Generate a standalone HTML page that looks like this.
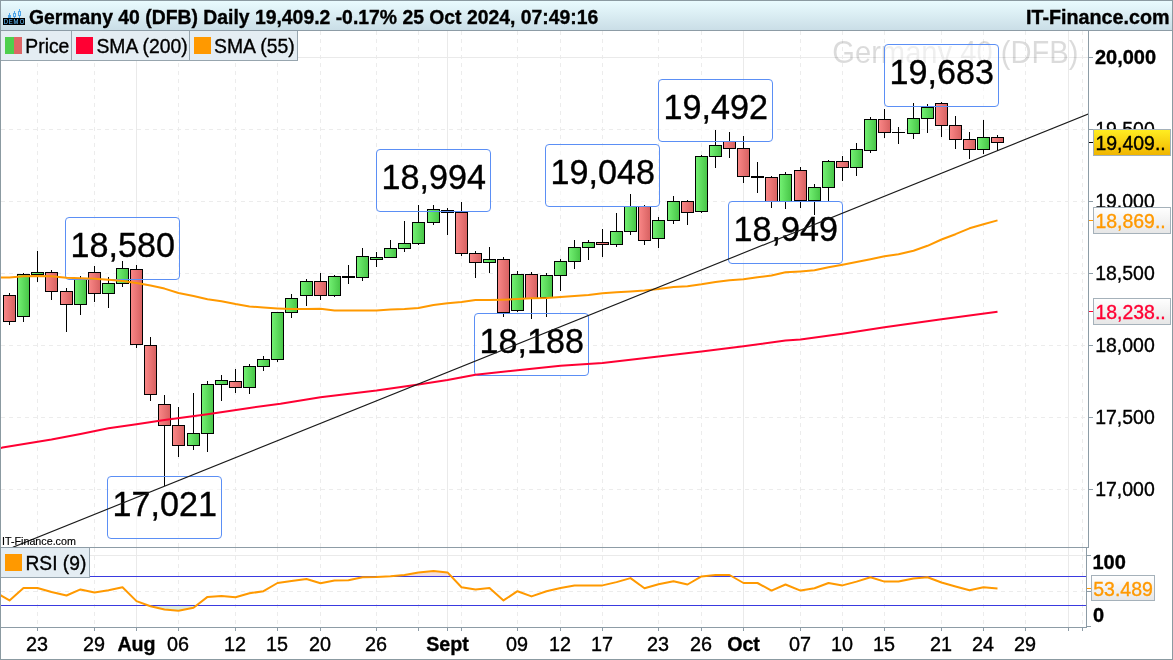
<!DOCTYPE html>
<html lang="en"><head><meta charset="utf-8"><title>Germany 40 (DFB) Daily</title>
<style>
html,body{margin:0;padding:0;background:#fff;}
body{width:1173px;height:660px;overflow:hidden;}
svg{display:block;font-family:"Liberation Sans", sans-serif;}
.ce{shape-rendering:crispEdges;}
.b{font-weight:bold;}
</style></head><body>
<svg width="1173" height="660" viewBox="0 0 1173 660">
<defs>
<linearGradient id="gG" x1="0" y1="0" x2="1" y2="0"><stop offset="0" stop-color="#72f072"/><stop offset="1" stop-color="#48c648"/></linearGradient>
<linearGradient id="gR" x1="0" y1="0" x2="1" y2="0"><stop offset="0" stop-color="#f98686"/><stop offset="1" stop-color="#d86262"/></linearGradient>
<linearGradient id="gT" x1="0" y1="0" x2="0" y2="1"><stop offset="0" stop-color="#eafcff"/><stop offset="1" stop-color="#c9dde6"/></linearGradient>
<linearGradient id="gY" x1="0" y1="0" x2="0" y2="1"><stop offset="0" stop-color="#ffee22"/><stop offset="1" stop-color="#f0b400"/></linearGradient>
<linearGradient id="gW" x1="0" y1="0" x2="0" y2="1"><stop offset="0" stop-color="#ffffff"/><stop offset="1" stop-color="#e6e6e6"/></linearGradient>
<clipPath id="cpMain"><rect x="1" y="31" width="1087" height="516"/></clipPath>
<clipPath id="cpRsi"><rect x="1" y="548" width="1085" height="79"/></clipPath>
</defs>
<rect width="1173" height="660" fill="#fff"/>
<g class="ce" stroke="#ececec" stroke-width="1" fill="none">
<line x1="37.5" y1="31" x2="37.5" y2="547" stroke-dasharray="4 4"/>
<line x1="37.5" y1="548" x2="37.5" y2="627" stroke-dasharray="4 4"/>
<line x1="94.5" y1="31" x2="94.5" y2="547" stroke-dasharray="4 4"/>
<line x1="94.5" y1="548" x2="94.5" y2="627" stroke-dasharray="4 4"/>
<line x1="178.5" y1="31" x2="178.5" y2="547" stroke-dasharray="4 4"/>
<line x1="178.5" y1="548" x2="178.5" y2="627" stroke-dasharray="4 4"/>
<line x1="235.5" y1="31" x2="235.5" y2="547" stroke-dasharray="4 4"/>
<line x1="235.5" y1="548" x2="235.5" y2="627" stroke-dasharray="4 4"/>
<line x1="277.5" y1="31" x2="277.5" y2="547" stroke-dasharray="4 4"/>
<line x1="277.5" y1="548" x2="277.5" y2="627" stroke-dasharray="4 4"/>
<line x1="320.5" y1="31" x2="320.5" y2="547" stroke-dasharray="4 4"/>
<line x1="320.5" y1="548" x2="320.5" y2="627" stroke-dasharray="4 4"/>
<line x1="376.5" y1="31" x2="376.5" y2="547" stroke-dasharray="4 4"/>
<line x1="376.5" y1="548" x2="376.5" y2="627" stroke-dasharray="4 4"/>
<line x1="418.5" y1="31" x2="418.5" y2="547" stroke-dasharray="4 4"/>
<line x1="418.5" y1="548" x2="418.5" y2="627" stroke-dasharray="4 4"/>
<line x1="461.5" y1="31" x2="461.5" y2="547" stroke-dasharray="4 4"/>
<line x1="461.5" y1="548" x2="461.5" y2="627" stroke-dasharray="4 4"/>
<line x1="517.5" y1="31" x2="517.5" y2="547" stroke-dasharray="4 4"/>
<line x1="517.5" y1="548" x2="517.5" y2="627" stroke-dasharray="4 4"/>
<line x1="560.5" y1="31" x2="560.5" y2="547" stroke-dasharray="4 4"/>
<line x1="560.5" y1="548" x2="560.5" y2="627" stroke-dasharray="4 4"/>
<line x1="602.5" y1="31" x2="602.5" y2="547" stroke-dasharray="4 4"/>
<line x1="602.5" y1="548" x2="602.5" y2="627" stroke-dasharray="4 4"/>
<line x1="658.5" y1="31" x2="658.5" y2="547" stroke-dasharray="4 4"/>
<line x1="658.5" y1="548" x2="658.5" y2="627" stroke-dasharray="4 4"/>
<line x1="701.5" y1="31" x2="701.5" y2="547" stroke-dasharray="4 4"/>
<line x1="701.5" y1="548" x2="701.5" y2="627" stroke-dasharray="4 4"/>
<line x1="800.5" y1="31" x2="800.5" y2="547" stroke-dasharray="4 4"/>
<line x1="800.5" y1="548" x2="800.5" y2="627" stroke-dasharray="4 4"/>
<line x1="842.5" y1="31" x2="842.5" y2="547" stroke-dasharray="4 4"/>
<line x1="842.5" y1="548" x2="842.5" y2="627" stroke-dasharray="4 4"/>
<line x1="884.5" y1="31" x2="884.5" y2="547" stroke-dasharray="4 4"/>
<line x1="884.5" y1="548" x2="884.5" y2="627" stroke-dasharray="4 4"/>
<line x1="941.5" y1="31" x2="941.5" y2="547" stroke-dasharray="4 4"/>
<line x1="941.5" y1="548" x2="941.5" y2="627" stroke-dasharray="4 4"/>
<line x1="983.5" y1="31" x2="983.5" y2="547" stroke-dasharray="4 4"/>
<line x1="983.5" y1="548" x2="983.5" y2="627" stroke-dasharray="4 4"/>
<line x1="1025.5" y1="31" x2="1025.5" y2="547" stroke-dasharray="4 4"/>
<line x1="1025.5" y1="548" x2="1025.5" y2="627" stroke-dasharray="4 4"/>
<line x1="1082.5" y1="31" x2="1082.5" y2="547" stroke-dasharray="4 4"/>
<line x1="1082.5" y1="548" x2="1082.5" y2="627" stroke-dasharray="4 4"/>
<line x1="136.5" y1="31" x2="136.5" y2="627" stroke="#eaeaea"/>
<line x1="447.5" y1="31" x2="447.5" y2="627" stroke="#eaeaea"/>
<line x1="743.5" y1="31" x2="743.5" y2="627" stroke="#eaeaea"/>
<line x1="1068.5" y1="31" x2="1068.5" y2="627" stroke="#eaeaea"/>
<line x1="1" y1="57.5" x2="1088" y2="57.5" stroke="#eaeaea"/>
<line x1="1" y1="129.5" x2="1088" y2="129.5" stroke-dasharray="4 4"/>
<line x1="1" y1="201.5" x2="1088" y2="201.5" stroke-dasharray="4 4"/>
<line x1="1" y1="273.5" x2="1088" y2="273.5" stroke-dasharray="4 4"/>
<line x1="1" y1="345.5" x2="1088" y2="345.5" stroke-dasharray="4 4"/>
<line x1="1" y1="417.5" x2="1088" y2="417.5" stroke-dasharray="4 4"/>
<line x1="1" y1="489.5" x2="1088" y2="489.5" stroke-dasharray="4 4"/>
<line x1="1" y1="555.5" x2="1086" y2="555.5" stroke="#eaeaea"/>
<line x1="1" y1="591.5" x2="1086" y2="591.5" stroke-dasharray="4 4"/>
</g>
<text transform="translate(832.3 62.7) scale(1 1.05)" font-size="29.15" fill="#000" stroke="#000" stroke-width="0" fill-opacity="0.14" stroke-opacity="0.14">Germany 40 (DFB)</text>
<rect x="65.5" y="217.5" width="114" height="62" rx="3.5" fill="#fff" fill-opacity="0.55"/>
<rect x="107.5" y="476.5" width="114" height="62" rx="3.5" fill="#fff" fill-opacity="0.55"/>
<rect x="376.5" y="149.5" width="114" height="62" rx="3.5" fill="#fff" fill-opacity="0.55"/>
<rect x="474.5" y="313.5" width="114" height="62" rx="3.5" fill="#fff" fill-opacity="0.55"/>
<rect x="545.5" y="144.5" width="114" height="62" rx="3.5" fill="#fff" fill-opacity="0.55"/>
<rect x="658.5" y="79.5" width="114" height="62" rx="3.5" fill="#fff" fill-opacity="0.55"/>
<rect x="728.5" y="201.5" width="114" height="62" rx="3.5" fill="#fff" fill-opacity="0.55"/>
<rect x="884.5" y="44.5" width="114" height="62" rx="3.5" fill="#fff" fill-opacity="0.55"/>
<g class="ce" clip-path="url(#cpMain)">
<rect x="9" y="293" width="1" height="32" fill="#000"/>
<rect x="3" y="295" width="13" height="27" fill="#000"/>
<rect x="4" y="296" width="11" height="25" fill="url(#gR)"/>
<rect x="23" y="273" width="1" height="49" fill="#000"/>
<rect x="17" y="274" width="13" height="43" fill="#000"/>
<rect x="18" y="275" width="11" height="41" fill="url(#gG)"/>
<rect x="37" y="251" width="1" height="31" fill="#000"/>
<rect x="31" y="272" width="13" height="3" fill="#000"/>
<rect x="32" y="273" width="11" height="1" fill="url(#gG)"/>
<rect x="51" y="270" width="1" height="30" fill="#000"/>
<rect x="45" y="272" width="13" height="20" fill="#000"/>
<rect x="46" y="273" width="11" height="18" fill="url(#gR)"/>
<rect x="66" y="288" width="1" height="44" fill="#000"/>
<rect x="60" y="291" width="13" height="14" fill="#000"/>
<rect x="61" y="292" width="11" height="12" fill="url(#gR)"/>
<rect x="80" y="276" width="1" height="39" fill="#000"/>
<rect x="74" y="279" width="13" height="26" fill="#000"/>
<rect x="75" y="280" width="11" height="24" fill="url(#gG)"/>
<rect x="94" y="266" width="1" height="36" fill="#000"/>
<rect x="88" y="272" width="13" height="22" fill="#000"/>
<rect x="89" y="273" width="11" height="20" fill="url(#gR)"/>
<rect x="108" y="277" width="1" height="31" fill="#000"/>
<rect x="102" y="283" width="13" height="11" fill="#000"/>
<rect x="103" y="284" width="11" height="9" fill="url(#gG)"/>
<rect x="122" y="261" width="1" height="26" fill="#000"/>
<rect x="116" y="268" width="13" height="16" fill="#000"/>
<rect x="117" y="269" width="11" height="14" fill="url(#gG)"/>
<rect x="136" y="265" width="1" height="83" fill="#000"/>
<rect x="130" y="269" width="13" height="76" fill="#000"/>
<rect x="131" y="270" width="11" height="74" fill="url(#gR)"/>
<rect x="150" y="337" width="1" height="64" fill="#000"/>
<rect x="144" y="345" width="13" height="50" fill="#000"/>
<rect x="145" y="346" width="11" height="48" fill="url(#gR)"/>
<rect x="164" y="395" width="1" height="91" fill="#000"/>
<rect x="158" y="404" width="13" height="22" fill="#000"/>
<rect x="159" y="405" width="11" height="20" fill="url(#gR)"/>
<rect x="178" y="407" width="1" height="50" fill="#000"/>
<rect x="172" y="425" width="13" height="21" fill="#000"/>
<rect x="173" y="426" width="11" height="19" fill="url(#gR)"/>
<rect x="193" y="393" width="1" height="57" fill="#000"/>
<rect x="187" y="433" width="13" height="13" fill="#000"/>
<rect x="188" y="434" width="11" height="11" fill="url(#gG)"/>
<rect x="207" y="381" width="1" height="71" fill="#000"/>
<rect x="201" y="384" width="13" height="50" fill="#000"/>
<rect x="202" y="385" width="11" height="48" fill="url(#gG)"/>
<rect x="221" y="375" width="1" height="26" fill="#000"/>
<rect x="215" y="380" width="13" height="5" fill="#000"/>
<rect x="216" y="381" width="11" height="3" fill="url(#gG)"/>
<rect x="235" y="369" width="1" height="24" fill="#000"/>
<rect x="229" y="381" width="13" height="7" fill="#000"/>
<rect x="230" y="382" width="11" height="5" fill="url(#gR)"/>
<rect x="249" y="364" width="1" height="30" fill="#000"/>
<rect x="243" y="366" width="13" height="22" fill="#000"/>
<rect x="244" y="367" width="11" height="20" fill="url(#gG)"/>
<rect x="263" y="356" width="1" height="15" fill="#000"/>
<rect x="257" y="359" width="13" height="8" fill="#000"/>
<rect x="258" y="360" width="11" height="6" fill="url(#gG)"/>
<rect x="277" y="312" width="1" height="50" fill="#000"/>
<rect x="271" y="312" width="13" height="48" fill="#000"/>
<rect x="272" y="313" width="11" height="46" fill="url(#gG)"/>
<rect x="291" y="294" width="1" height="24" fill="#000"/>
<rect x="285" y="298" width="13" height="15" fill="#000"/>
<rect x="286" y="299" width="11" height="13" fill="url(#gG)"/>
<rect x="306" y="279" width="1" height="27" fill="#000"/>
<rect x="300" y="281" width="13" height="15" fill="#000"/>
<rect x="301" y="282" width="11" height="13" fill="url(#gG)"/>
<rect x="320" y="273" width="1" height="27" fill="#000"/>
<rect x="314" y="281" width="13" height="15" fill="#000"/>
<rect x="315" y="282" width="11" height="13" fill="url(#gR)"/>
<rect x="334" y="275" width="1" height="22" fill="#000"/>
<rect x="328" y="276" width="13" height="20" fill="#000"/>
<rect x="329" y="277" width="11" height="18" fill="url(#gG)"/>
<rect x="348" y="265" width="1" height="19" fill="#000"/>
<rect x="342" y="276" width="13" height="2" fill="#000"/>
<rect x="362" y="248" width="1" height="33" fill="#000"/>
<rect x="356" y="256" width="13" height="22" fill="#000"/>
<rect x="357" y="257" width="11" height="20" fill="url(#gG)"/>
<rect x="376" y="252" width="1" height="15" fill="#000"/>
<rect x="370" y="257" width="13" height="3" fill="#000"/>
<rect x="371" y="258" width="11" height="1" fill="url(#gG)"/>
<rect x="390" y="240" width="1" height="18" fill="#000"/>
<rect x="384" y="248" width="13" height="10" fill="#000"/>
<rect x="385" y="249" width="11" height="8" fill="url(#gG)"/>
<rect x="404" y="221" width="1" height="31" fill="#000"/>
<rect x="398" y="243" width="13" height="6" fill="#000"/>
<rect x="399" y="244" width="11" height="4" fill="url(#gG)"/>
<rect x="418" y="205" width="1" height="40" fill="#000"/>
<rect x="412" y="222" width="13" height="22" fill="#000"/>
<rect x="413" y="223" width="11" height="20" fill="url(#gG)"/>
<rect x="433" y="205" width="1" height="20" fill="#000"/>
<rect x="427" y="209" width="13" height="14" fill="#000"/>
<rect x="428" y="210" width="11" height="12" fill="url(#gG)"/>
<rect x="447" y="208" width="1" height="27" fill="#000"/>
<rect x="441" y="210" width="13" height="3" fill="#000"/>
<rect x="461" y="202" width="1" height="54" fill="#000"/>
<rect x="455" y="212" width="13" height="42" fill="#000"/>
<rect x="456" y="213" width="11" height="40" fill="url(#gR)"/>
<rect x="475" y="251" width="1" height="27" fill="#000"/>
<rect x="469" y="253" width="13" height="10" fill="#000"/>
<rect x="470" y="254" width="11" height="8" fill="url(#gR)"/>
<rect x="489" y="247" width="1" height="26" fill="#000"/>
<rect x="483" y="259" width="13" height="4" fill="#000"/>
<rect x="484" y="260" width="11" height="2" fill="url(#gG)"/>
<rect x="503" y="257" width="1" height="60" fill="#000"/>
<rect x="497" y="259" width="13" height="54" fill="#000"/>
<rect x="498" y="260" width="11" height="52" fill="url(#gR)"/>
<rect x="517" y="271" width="1" height="41" fill="#000"/>
<rect x="511" y="274" width="13" height="37" fill="#000"/>
<rect x="512" y="275" width="11" height="35" fill="url(#gG)"/>
<rect x="531" y="272" width="1" height="47" fill="#000"/>
<rect x="525" y="274" width="13" height="25" fill="#000"/>
<rect x="526" y="275" width="11" height="23" fill="url(#gR)"/>
<rect x="546" y="273" width="1" height="44" fill="#000"/>
<rect x="540" y="275" width="13" height="23" fill="#000"/>
<rect x="541" y="276" width="11" height="21" fill="url(#gG)"/>
<rect x="560" y="259" width="1" height="32" fill="#000"/>
<rect x="554" y="261" width="13" height="15" fill="#000"/>
<rect x="555" y="262" width="11" height="13" fill="url(#gG)"/>
<rect x="574" y="240" width="1" height="29" fill="#000"/>
<rect x="568" y="247" width="13" height="15" fill="#000"/>
<rect x="569" y="248" width="11" height="13" fill="url(#gG)"/>
<rect x="588" y="240" width="1" height="20" fill="#000"/>
<rect x="582" y="242" width="13" height="6" fill="#000"/>
<rect x="583" y="243" width="11" height="4" fill="url(#gG)"/>
<rect x="602" y="229" width="1" height="28" fill="#000"/>
<rect x="596" y="242" width="13" height="3" fill="#000"/>
<rect x="597" y="243" width="11" height="1" fill="url(#gR)"/>
<rect x="616" y="213" width="1" height="34" fill="#000"/>
<rect x="610" y="231" width="13" height="14" fill="#000"/>
<rect x="611" y="232" width="11" height="12" fill="url(#gG)"/>
<rect x="630" y="194" width="1" height="41" fill="#000"/>
<rect x="624" y="206" width="13" height="26" fill="#000"/>
<rect x="625" y="207" width="11" height="24" fill="url(#gG)"/>
<rect x="644" y="205" width="1" height="40" fill="#000"/>
<rect x="638" y="206" width="13" height="35" fill="#000"/>
<rect x="639" y="207" width="11" height="33" fill="url(#gR)"/>
<rect x="658" y="217" width="1" height="31" fill="#000"/>
<rect x="652" y="220" width="13" height="19" fill="#000"/>
<rect x="653" y="221" width="11" height="17" fill="url(#gG)"/>
<rect x="673" y="196" width="1" height="28" fill="#000"/>
<rect x="667" y="201" width="13" height="20" fill="#000"/>
<rect x="668" y="202" width="11" height="18" fill="url(#gG)"/>
<rect x="687" y="200" width="1" height="25" fill="#000"/>
<rect x="681" y="201" width="13" height="12" fill="#000"/>
<rect x="682" y="202" width="11" height="10" fill="url(#gR)"/>
<rect x="701" y="155" width="1" height="58" fill="#000"/>
<rect x="695" y="156" width="13" height="56" fill="#000"/>
<rect x="696" y="157" width="11" height="54" fill="url(#gG)"/>
<rect x="715" y="130" width="1" height="38" fill="#000"/>
<rect x="709" y="145" width="13" height="12" fill="#000"/>
<rect x="710" y="146" width="11" height="10" fill="url(#gG)"/>
<rect x="729" y="132" width="1" height="26" fill="#000"/>
<rect x="723" y="141" width="13" height="8" fill="#000"/>
<rect x="724" y="142" width="11" height="6" fill="url(#gR)"/>
<rect x="743" y="136" width="1" height="47" fill="#000"/>
<rect x="737" y="148" width="13" height="29" fill="#000"/>
<rect x="738" y="149" width="11" height="27" fill="url(#gR)"/>
<rect x="757" y="162" width="1" height="31" fill="#000"/>
<rect x="751" y="176" width="13" height="2" fill="#000"/>
<rect x="771" y="176" width="1" height="32" fill="#000"/>
<rect x="765" y="177" width="13" height="25" fill="#000"/>
<rect x="766" y="178" width="11" height="23" fill="url(#gR)"/>
<rect x="785" y="172" width="1" height="37" fill="#000"/>
<rect x="779" y="174" width="13" height="28" fill="#000"/>
<rect x="780" y="175" width="11" height="26" fill="url(#gG)"/>
<rect x="800" y="167" width="1" height="41" fill="#000"/>
<rect x="794" y="170" width="13" height="31" fill="#000"/>
<rect x="795" y="171" width="11" height="29" fill="url(#gR)"/>
<rect x="814" y="184" width="1" height="31" fill="#000"/>
<rect x="808" y="187" width="13" height="14" fill="#000"/>
<rect x="809" y="188" width="11" height="12" fill="url(#gG)"/>
<rect x="828" y="160" width="1" height="41" fill="#000"/>
<rect x="822" y="161" width="13" height="27" fill="#000"/>
<rect x="823" y="162" width="11" height="25" fill="url(#gG)"/>
<rect x="842" y="156" width="1" height="25" fill="#000"/>
<rect x="836" y="161" width="13" height="7" fill="#000"/>
<rect x="837" y="162" width="11" height="5" fill="url(#gR)"/>
<rect x="856" y="143" width="1" height="33" fill="#000"/>
<rect x="850" y="149" width="13" height="19" fill="#000"/>
<rect x="851" y="150" width="11" height="17" fill="url(#gG)"/>
<rect x="870" y="117" width="1" height="36" fill="#000"/>
<rect x="864" y="119" width="13" height="32" fill="#000"/>
<rect x="865" y="120" width="11" height="30" fill="url(#gG)"/>
<rect x="884" y="109" width="1" height="29" fill="#000"/>
<rect x="878" y="119" width="13" height="14" fill="#000"/>
<rect x="879" y="120" width="11" height="12" fill="url(#gR)"/>
<rect x="898" y="127" width="1" height="17" fill="#000"/>
<rect x="892" y="132" width="13" height="1" fill="#000"/>
<rect x="913" y="103" width="1" height="36" fill="#000"/>
<rect x="907" y="118" width="13" height="16" fill="#000"/>
<rect x="908" y="119" width="11" height="14" fill="url(#gG)"/>
<rect x="927" y="104" width="1" height="29" fill="#000"/>
<rect x="921" y="107" width="13" height="12" fill="#000"/>
<rect x="922" y="108" width="11" height="10" fill="url(#gG)"/>
<rect x="941" y="102" width="1" height="35" fill="#000"/>
<rect x="935" y="103" width="13" height="23" fill="#000"/>
<rect x="936" y="104" width="11" height="21" fill="url(#gR)"/>
<rect x="955" y="116" width="1" height="33" fill="#000"/>
<rect x="949" y="125" width="13" height="15" fill="#000"/>
<rect x="950" y="126" width="11" height="13" fill="url(#gR)"/>
<rect x="969" y="132" width="1" height="27" fill="#000"/>
<rect x="963" y="139" width="13" height="11" fill="#000"/>
<rect x="964" y="140" width="11" height="9" fill="url(#gR)"/>
<rect x="983" y="120" width="1" height="34" fill="#000"/>
<rect x="977" y="137" width="13" height="13" fill="#000"/>
<rect x="978" y="138" width="11" height="11" fill="url(#gG)"/>
<rect x="997" y="135" width="1" height="16" fill="#000"/>
<rect x="991" y="137" width="13" height="6" fill="#000"/>
<rect x="992" y="138" width="11" height="4" fill="url(#gR)"/>
</g>
<rect x="65.5" y="217.5" width="114" height="62" rx="3.5" fill="none" stroke="#5b8ff5" stroke-width="1"/>
<rect x="107.5" y="476.5" width="114" height="62" rx="3.5" fill="none" stroke="#5b8ff5" stroke-width="1"/>
<rect x="376.5" y="149.5" width="114" height="62" rx="3.5" fill="none" stroke="#5b8ff5" stroke-width="1"/>
<rect x="474.5" y="313.5" width="114" height="62" rx="3.5" fill="none" stroke="#5b8ff5" stroke-width="1"/>
<rect x="545.5" y="144.5" width="114" height="62" rx="3.5" fill="none" stroke="#5b8ff5" stroke-width="1"/>
<rect x="658.5" y="79.5" width="114" height="62" rx="3.5" fill="none" stroke="#5b8ff5" stroke-width="1"/>
<rect x="728.5" y="201.5" width="114" height="62" rx="3.5" fill="none" stroke="#5b8ff5" stroke-width="1"/>
<rect x="884.5" y="44.5" width="114" height="62" rx="3.5" fill="none" stroke="#5b8ff5" stroke-width="1"/>
<text transform="translate(122.7 256.9) scale(1 1.03)" font-size="34.15" text-anchor="middle" fill="#000" stroke="#000" stroke-width="0.35">18,580</text>
<text transform="translate(164.7 515.9) scale(1 1.03)" font-size="34.15" text-anchor="middle" fill="#000" stroke="#000" stroke-width="0.35">17,021</text>
<text transform="translate(433.7 188.9) scale(1 1.03)" font-size="34.15" text-anchor="middle" fill="#000" stroke="#000" stroke-width="0.35">18,994</text>
<text transform="translate(531.7 352.9) scale(1 1.03)" font-size="34.15" text-anchor="middle" fill="#000" stroke="#000" stroke-width="0.35">18,188</text>
<text transform="translate(602.7 183.9) scale(1 1.03)" font-size="34.15" text-anchor="middle" fill="#000" stroke="#000" stroke-width="0.35">19,048</text>
<text transform="translate(715.7 118.9) scale(1 1.03)" font-size="34.15" text-anchor="middle" fill="#000" stroke="#000" stroke-width="0.35">19,492</text>
<text transform="translate(785.7 240.9) scale(1 1.03)" font-size="34.15" text-anchor="middle" fill="#000" stroke="#000" stroke-width="0.35">18,949</text>
<text transform="translate(941.7 83.9) scale(1 1.03)" font-size="34.15" text-anchor="middle" fill="#000" stroke="#000" stroke-width="0.35">19,683</text>
<g clip-path="url(#cpMain)" fill="none" stroke-linejoin="round">
<path d="M0.5 448 L2.5 447.6 L51.5 439.6 L80.5 433.9 L108.5 428.3 L136.5 424.2 L164.5 419.9 L207.5 414.2 L249.5 407.9 L280.5 403.8 L320.5 397.3 L376.5 390.6 L418.5 384.5 L447.5 379.9 L475.5 374.8 L517.5 370.2 L560.5 365.8 L602.5 362.9 L658.5 356.5 L701.5 351.4 L743.5 346.3 L785.5 340.6 L800.5 339.4 L842.5 333.7 L884.5 327.2 L941.5 319.3 L997.5 311.8" stroke="#ff0033" stroke-width="2"/>
<path d="M0.5 277.5 L2.5 277.5 L9.5 277.4 L23.5 276.3 L37.5 275.9 L51.5 276.3 L66.5 277.8 L80.5 278.2 L94.5 278.8 L108.5 279.7 L122.5 281 L136.5 282.9 L150.5 285.6 L164.5 288.6 L178.5 293 L193.5 296.1 L207.5 299.3 L221.5 301.2 L235.5 304.1 L249.5 306.4 L263.5 307.5 L277.5 308.4 L291.5 309.1 L306.5 309 L320.5 308.8 L334.5 310.5 L348.5 310.5 L362.5 310.5 L376.5 310.5 L390.5 309.4 L404.5 309.1 L418.5 308.1 L433.5 305 L447.5 303.3 L461.5 302.1 L475.5 300 L489.5 300 L503.5 299.7 L517.5 299.1 L531.5 298.2 L546.5 298 L560.5 297 L574.5 296.1 L588.5 295.1 L602.5 293.2 L616.5 292.2 L630.5 291.4 L644.5 290.5 L658.5 289.1 L673.5 287.1 L687.5 286.2 L701.5 284.3 L715.5 282 L729.5 280.2 L743.5 279.3 L757.5 277.2 L771.5 275.5 L785.5 272.3 L800.5 271.4 L814.5 270.3 L828.5 267.3 L842.5 264.8 L856.5 262.1 L870.5 259.2 L884.5 256.2 L898.5 254.3 L913.5 250.7 L927.5 245.8 L941.5 239.5 L955.5 234.2 L969.5 228.3 L983.5 224.3 L997.5 220.4" stroke="#ff9900" stroke-width="2"/>
<line x1="12.8" y1="547.3" x2="1088.5" y2="114" stroke="#1a1a1a" stroke-width="1.15"/>
</g>
<text transform="translate(2 544.8) scale(1 1)" font-size="10.72" fill="#000" stroke="#000" stroke-width="0.15">IT-Finance.com</text>
<g clip-path="url(#cpRsi)">
<clipPath id="cpHi"><rect x="0" y="548" width="1090" height="28.5"/></clipPath>
<clipPath id="cpLo"><rect x="0" y="605.5" width="1090" height="30"/></clipPath>
<path d="M0.5 595.2 L2.5 596.4 L9.5 600.4 L23.5 588 L37.5 588 L51.5 592 L66.5 595.5 L80.5 589.4 L94.5 592.4 L108.5 590.3 L122.5 587.2 L136.5 601.1 L150.5 606.3 L164.5 609.5 L178.5 610.7 L193.5 607.7 L207.5 596.9 L221.5 595.9 L235.5 597.3 L249.5 593.3 L263.5 591.2 L277.5 583 L291.5 581.1 L306.5 579 L320.5 583.3 L334.5 580.4 L348.5 580.2 L362.5 577.2 L376.5 576.9 L390.5 576.2 L404.5 575 L418.5 572.4 L433.5 571.1 L447.5 572.4 L461.5 587.3 L475.5 589.4 L489.5 588 L503.5 600.4 L517.5 591.2 L531.5 596.4 L546.5 591.2 L560.5 588 L574.5 585.4 L588.5 585.4 L602.5 585.4 L616.5 582.1 L630.5 578.1 L644.5 588.2 L658.5 584.2 L673.5 581.2 L687.5 584.5 L701.5 576.4 L715.5 575 L729.5 575 L743.5 583 L757.5 583 L771.5 590.6 L785.5 584.5 L800.5 590.6 L814.5 588.2 L828.5 583 L842.5 585.4 L856.5 581.6 L870.5 577.2 L884.5 581.6 L898.5 581.6 L913.5 578.4 L927.5 577.2 L941.5 582.5 L955.5 586.5 L969.5 590.2 L983.5 587.3 L997.5 588.4 L997.5 576.5 L0 576.5 Z" fill="#f3dede" clip-path="url(#cpHi)"/>
<path d="M0.5 595.2 L2.5 596.4 L9.5 600.4 L23.5 588 L37.5 588 L51.5 592 L66.5 595.5 L80.5 589.4 L94.5 592.4 L108.5 590.3 L122.5 587.2 L136.5 601.1 L150.5 606.3 L164.5 609.5 L178.5 610.7 L193.5 607.7 L207.5 596.9 L221.5 595.9 L235.5 597.3 L249.5 593.3 L263.5 591.2 L277.5 583 L291.5 581.1 L306.5 579 L320.5 583.3 L334.5 580.4 L348.5 580.2 L362.5 577.2 L376.5 576.9 L390.5 576.2 L404.5 575 L418.5 572.4 L433.5 571.1 L447.5 572.4 L461.5 587.3 L475.5 589.4 L489.5 588 L503.5 600.4 L517.5 591.2 L531.5 596.4 L546.5 591.2 L560.5 588 L574.5 585.4 L588.5 585.4 L602.5 585.4 L616.5 582.1 L630.5 578.1 L644.5 588.2 L658.5 584.2 L673.5 581.2 L687.5 584.5 L701.5 576.4 L715.5 575 L729.5 575 L743.5 583 L757.5 583 L771.5 590.6 L785.5 584.5 L800.5 590.6 L814.5 588.2 L828.5 583 L842.5 585.4 L856.5 581.6 L870.5 577.2 L884.5 581.6 L898.5 581.6 L913.5 578.4 L927.5 577.2 L941.5 582.5 L955.5 586.5 L969.5 590.2 L983.5 587.3 L997.5 588.4 L997.5 605.5 L0 605.5 Z" fill="#dcebe0" clip-path="url(#cpLo)"/>
<g class="ce"><rect x="1" y="576" width="1085" height="1" fill="#3a3ae0"/><rect x="1" y="605" width="1085" height="1" fill="#3a3ae0"/></g>
<path d="M0.5 595.2 L2.5 596.4 L9.5 600.4 L23.5 588 L37.5 588 L51.5 592 L66.5 595.5 L80.5 589.4 L94.5 592.4 L108.5 590.3 L122.5 587.2 L136.5 601.1 L150.5 606.3 L164.5 609.5 L178.5 610.7 L193.5 607.7 L207.5 596.9 L221.5 595.9 L235.5 597.3 L249.5 593.3 L263.5 591.2 L277.5 583 L291.5 581.1 L306.5 579 L320.5 583.3 L334.5 580.4 L348.5 580.2 L362.5 577.2 L376.5 576.9 L390.5 576.2 L404.5 575 L418.5 572.4 L433.5 571.1 L447.5 572.4 L461.5 587.3 L475.5 589.4 L489.5 588 L503.5 600.4 L517.5 591.2 L531.5 596.4 L546.5 591.2 L560.5 588 L574.5 585.4 L588.5 585.4 L602.5 585.4 L616.5 582.1 L630.5 578.1 L644.5 588.2 L658.5 584.2 L673.5 581.2 L687.5 584.5 L701.5 576.4 L715.5 575 L729.5 575 L743.5 583 L757.5 583 L771.5 590.6 L785.5 584.5 L800.5 590.6 L814.5 588.2 L828.5 583 L842.5 585.4 L856.5 581.6 L870.5 577.2 L884.5 581.6 L898.5 581.6 L913.5 578.4 L927.5 577.2 L941.5 582.5 L955.5 586.5 L969.5 590.2 L983.5 587.3 L997.5 588.4" fill="none" stroke="#ff9900" stroke-width="2" stroke-linejoin="round"/>
</g>
<g class="ce">
<rect x="0" y="0" width="1173" height="31" fill="url(#gT)"/>
<rect x="0" y="0" width="1173" height="1" fill="#8b9aa1"/>
<rect x="0" y="30" width="1173" height="1" fill="#8d9ca6"/>
<rect x="1" y="31" width="297" height="30" fill="#e4edf3"/>
<rect x="1" y="60" width="297" height="1" fill="#97a5ae"/>
<rect x="71" y="31" width="1" height="30" fill="#97a5ae"/>
<rect x="189" y="31" width="1" height="30" fill="#97a5ae"/>
<rect x="297" y="31" width="1" height="30" fill="#97a5ae"/>
<rect x="5" y="37" width="9" height="17" fill="#4dcf4d"/><rect x="14" y="37" width="8" height="17" fill="#dd6666"/>
<rect x="76" y="37" width="17" height="17" fill="#ff0033"/>
<rect x="194" y="37" width="17" height="17" fill="#ff9900"/>
<rect x="1" y="548" width="89" height="30" fill="#e4edf3"/>
<rect x="1" y="577" width="89" height="1" fill="#97a5ae"/>
<rect x="89" y="548" width="1" height="30" fill="#97a5ae"/>
<rect x="5" y="554" width="17" height="17" fill="#ff9900"/>
<rect x="1088" y="31" width="1" height="517" fill="#8d9ca6"/>
<rect x="0" y="547" width="1089" height="1" fill="#8d9ca6"/>
<rect x="1086" y="548" width="1" height="80" fill="#8d9ca6"/>
<rect x="0" y="627" width="1087" height="1" fill="#8d9ca6"/>
<rect x="1089" y="57" width="4" height="1" fill="#8d9ca6"/>
<rect x="1089" y="129" width="4" height="1" fill="#8d9ca6"/>
<rect x="1089" y="201" width="4" height="1" fill="#8d9ca6"/>
<rect x="1089" y="273" width="4" height="1" fill="#8d9ca6"/>
<rect x="1089" y="345" width="4" height="1" fill="#8d9ca6"/>
<rect x="1089" y="417" width="4" height="1" fill="#8d9ca6"/>
<rect x="1089" y="489" width="4" height="1" fill="#8d9ca6"/>
<rect x="1087" y="555" width="4" height="1" fill="#8d9ca6"/>
<rect x="1087" y="626" width="4" height="1" fill="#8d9ca6"/>
<rect x="37" y="628" width="1" height="3" fill="#8d9ca6"/>
<rect x="94" y="628" width="1" height="3" fill="#8d9ca6"/>
<rect x="136" y="628" width="1" height="3" fill="#8d9ca6"/>
<rect x="178" y="628" width="1" height="3" fill="#8d9ca6"/>
<rect x="235" y="628" width="1" height="3" fill="#8d9ca6"/>
<rect x="277" y="628" width="1" height="3" fill="#8d9ca6"/>
<rect x="320" y="628" width="1" height="3" fill="#8d9ca6"/>
<rect x="376" y="628" width="1" height="3" fill="#8d9ca6"/>
<rect x="418" y="628" width="1" height="3" fill="#8d9ca6"/>
<rect x="447" y="628" width="1" height="3" fill="#8d9ca6"/>
<rect x="461" y="628" width="1" height="3" fill="#8d9ca6"/>
<rect x="517" y="628" width="1" height="3" fill="#8d9ca6"/>
<rect x="560" y="628" width="1" height="3" fill="#8d9ca6"/>
<rect x="602" y="628" width="1" height="3" fill="#8d9ca6"/>
<rect x="658" y="628" width="1" height="3" fill="#8d9ca6"/>
<rect x="701" y="628" width="1" height="3" fill="#8d9ca6"/>
<rect x="743" y="628" width="1" height="3" fill="#8d9ca6"/>
<rect x="800" y="628" width="1" height="3" fill="#8d9ca6"/>
<rect x="842" y="628" width="1" height="3" fill="#8d9ca6"/>
<rect x="884" y="628" width="1" height="3" fill="#8d9ca6"/>
<rect x="941" y="628" width="1" height="3" fill="#8d9ca6"/>
<rect x="983" y="628" width="1" height="3" fill="#8d9ca6"/>
<rect x="1025" y="628" width="1" height="3" fill="#8d9ca6"/>
<rect x="1068" y="628" width="1" height="3" fill="#8d9ca6"/>
<rect x="1082" y="628" width="1" height="3" fill="#8d9ca6"/>
<rect x="0" y="0" width="1" height="660" fill="#8b9aa1"/>
<rect x="1172" y="0" width="1" height="660" fill="#8b9aa1"/>
<rect x="0" y="659" width="1173" height="1" fill="#8b9aa1"/>
</g>
<text transform="translate(29 23.6) scale(1 1)" font-size="19.38" class="b" fill="#000" stroke="#000" stroke-width="0.35">Germany 40 (DFB) Daily 19,409.2 -0.17% 25 Oct 2024, 07:49:16</text>
<text transform="translate(1026 23.6) scale(1 1.01)" font-size="19.75" class="b" fill="#000" stroke="#000" stroke-width="0.35">IT-Finance.com</text>
<text transform="translate(25.3 53.2) scale(1 1.03)" font-size="19.35" fill="#000" stroke="#000" stroke-width="0.35">Price</text>
<text transform="translate(96.4 53.2) scale(1 1.03)" font-size="19.35" fill="#000" stroke="#000" stroke-width="0.35">SMA (200)</text>
<text transform="translate(214.1 53.2) scale(1 1.03)" font-size="19.35" fill="#000" stroke="#000" stroke-width="0.35">SMA (55)</text>
<text transform="translate(25.5 570.3) scale(1 1.03)" font-size="19.2" fill="#000" stroke="#000" stroke-width="0.35">RSI (9)</text>
<text transform="translate(1094.9 64.4) scale(1 1.03)" font-size="20" class="b" fill="#000" stroke="#000" stroke-width="0.35">20,000</text>
<text transform="translate(1095.2 135.9) scale(1 1.03)" font-size="19.46" fill="#000" stroke="#000" stroke-width="0.35">19,500</text>
<text transform="translate(1095.2 207.9) scale(1 1.03)" font-size="19.46" fill="#000" stroke="#000" stroke-width="0.35">19,000</text>
<text transform="translate(1095.2 279.9) scale(1 1.03)" font-size="19.46" fill="#000" stroke="#000" stroke-width="0.35">18,500</text>
<text transform="translate(1095.2 351.9) scale(1 1.03)" font-size="19.46" fill="#000" stroke="#000" stroke-width="0.35">18,000</text>
<text transform="translate(1095.2 423.9) scale(1 1.03)" font-size="19.46" fill="#000" stroke="#000" stroke-width="0.35">17,500</text>
<text transform="translate(1095.2 495.9) scale(1 1.03)" font-size="19.46" fill="#000" stroke="#000" stroke-width="0.35">17,000</text>
<text transform="translate(1092.4 568.5) scale(1 1.04)" font-size="20" class="b" fill="#000" stroke="#000" stroke-width="0.35">100</text>
<text transform="translate(1093 621.6) scale(1 1.04)" font-size="20" class="b" fill="#000" stroke="#000" stroke-width="0.35">0</text>
<g class="ce"><rect x="1093.5" y="129.5" width="77" height="26" fill="url(#gY)" stroke="#a5b1ba" stroke-width="1"/>
<rect x="1089" y="142" width="4" height="1" fill="#000"/></g>
<text transform="translate(1095.4 149.9) scale(1 1.01)" font-size="19.48" fill="#000" stroke="#000" stroke-width="0.35">19,409..</text>
<g class="ce"><rect x="1093.5" y="207.5" width="77" height="26" fill="url(#gW)" stroke="#a5b1ba" stroke-width="1"/>
<rect x="1089" y="220" width="4" height="1" fill="#ff9900"/></g>
<text transform="translate(1095.4 227.9) scale(1 1.01)" font-size="19.48" fill="#ff9900" stroke="#ff9900" stroke-width="0.35">18,869..</text>
<g class="ce"><rect x="1093.5" y="298.5" width="77" height="26" fill="url(#gW)" stroke="#a5b1ba" stroke-width="1"/>
<rect x="1089" y="311" width="4" height="1" fill="#ff0033"/></g>
<text transform="translate(1095.4 318.9) scale(1 1.01)" font-size="19.48" fill="#ff0033" stroke="#ff0033" stroke-width="0.35">18,238..</text>
<g class="ce"><rect x="1087" y="591" width="4" height="1" fill="#8d9ca6"/>
<rect x="1091.5" y="575.5" width="63" height="25" fill="url(#gW)" stroke="#a5b1ba" stroke-width="1"/>
<rect x="1087" y="588" width="4" height="1" fill="#ff9900"/></g>
<text transform="translate(1093.2 595.7) scale(1 1)" font-size="19.5" fill="#ff9900" stroke="#ff9900" stroke-width="0.35">53.489</text>
<text transform="translate(37.1 650.9) scale(1 1.02)" font-size="19.8" text-anchor="middle" fill="#000" stroke="#000" stroke-width="0.35">23</text>
<text transform="translate(94.1 650.9) scale(1 1.02)" font-size="19.8" text-anchor="middle" fill="#000" stroke="#000" stroke-width="0.35">29</text>
<text transform="translate(136.5 650.5) scale(1 1.02)" font-size="19.65" class="b" text-anchor="middle" fill="#000" stroke="#000" stroke-width="0.35">Aug</text>
<text transform="translate(178.1 650.9) scale(1 1.02)" font-size="19.8" text-anchor="middle" fill="#000" stroke="#000" stroke-width="0.35">06</text>
<text transform="translate(235.1 650.9) scale(1 1.02)" font-size="19.8" text-anchor="middle" fill="#000" stroke="#000" stroke-width="0.35">12</text>
<text transform="translate(277.1 650.9) scale(1 1.02)" font-size="19.8" text-anchor="middle" fill="#000" stroke="#000" stroke-width="0.35">15</text>
<text transform="translate(320.1 650.9) scale(1 1.02)" font-size="19.8" text-anchor="middle" fill="#000" stroke="#000" stroke-width="0.35">20</text>
<text transform="translate(376.1 650.9) scale(1 1.02)" font-size="19.8" text-anchor="middle" fill="#000" stroke="#000" stroke-width="0.35">26</text>
<text transform="translate(447.5 650.5) scale(1 1.02)" font-size="19.65" class="b" text-anchor="middle" fill="#000" stroke="#000" stroke-width="0.35">Sept</text>
<text transform="translate(517.1 650.9) scale(1 1.02)" font-size="19.8" text-anchor="middle" fill="#000" stroke="#000" stroke-width="0.35">09</text>
<text transform="translate(560.1 650.9) scale(1 1.02)" font-size="19.8" text-anchor="middle" fill="#000" stroke="#000" stroke-width="0.35">12</text>
<text transform="translate(602.1 650.9) scale(1 1.02)" font-size="19.8" text-anchor="middle" fill="#000" stroke="#000" stroke-width="0.35">17</text>
<text transform="translate(658.1 650.9) scale(1 1.02)" font-size="19.8" text-anchor="middle" fill="#000" stroke="#000" stroke-width="0.35">23</text>
<text transform="translate(701.1 650.9) scale(1 1.02)" font-size="19.8" text-anchor="middle" fill="#000" stroke="#000" stroke-width="0.35">26</text>
<text transform="translate(743.5 650.5) scale(1 1.02)" font-size="19.65" class="b" text-anchor="middle" fill="#000" stroke="#000" stroke-width="0.35">Oct</text>
<text transform="translate(800.1 650.9) scale(1 1.02)" font-size="19.8" text-anchor="middle" fill="#000" stroke="#000" stroke-width="0.35">07</text>
<text transform="translate(842.1 650.9) scale(1 1.02)" font-size="19.8" text-anchor="middle" fill="#000" stroke="#000" stroke-width="0.35">10</text>
<text transform="translate(884.1 650.9) scale(1 1.02)" font-size="19.8" text-anchor="middle" fill="#000" stroke="#000" stroke-width="0.35">15</text>
<text transform="translate(941.1 650.9) scale(1 1.02)" font-size="19.8" text-anchor="middle" fill="#000" stroke="#000" stroke-width="0.35">21</text>
<text transform="translate(983.1 650.9) scale(1 1.02)" font-size="19.8" text-anchor="middle" fill="#000" stroke="#000" stroke-width="0.35">24</text>
<text transform="translate(1025.1 650.9) scale(1 1.02)" font-size="19.8" text-anchor="middle" fill="#000" stroke="#000" stroke-width="0.35">29</text>
<g class="ce">
<rect x="3" y="18" width="22" height="7" rx="1" fill="#000"/>
<rect x="9" y="13" width="1" height="5" fill="#4ea6ea"/><rect x="8" y="15" width="3" height="3" fill="#4ea6ea"/>
<rect x="14" y="11" width="1" height="2" fill="#4ea6ea"/><rect x="14" y="16" width="1" height="2" fill="#4ea6ea"/>
<rect x="13" y="13" width="3" height="1" fill="#4ea6ea"/><rect x="13" y="16" width="3" height="1" fill="#4ea6ea"/><rect x="13" y="13" width="1" height="4" fill="#4ea6ea"/><rect x="15" y="13" width="1" height="4" fill="#4ea6ea"/>
<rect x="19" y="9" width="1" height="2" fill="#4ea6ea"/><rect x="19" y="15" width="1" height="3" fill="#4ea6ea"/>
<rect x="18" y="11" width="3" height="1" fill="#4ea6ea"/><rect x="18" y="15" width="3" height="1" fill="#4ea6ea"/><rect x="18" y="11" width="1" height="5" fill="#4ea6ea"/><rect x="20" y="11" width="1" height="5" fill="#4ea6ea"/>
<rect x="14" y="14" width="1" height="2" fill="#cfe6f5"/><rect x="19" y="12" width="1" height="3" fill="#cfe6f5"/>
</g>
<text transform="translate(0 24) scale(0.8 1)" x="4.6 10.9 17.0 24.7" y="0" font-size="7.3" fill="#62bcf8" stroke="#62bcf8" stroke-width="0.12">DEMO</text>
</svg></body></html>
